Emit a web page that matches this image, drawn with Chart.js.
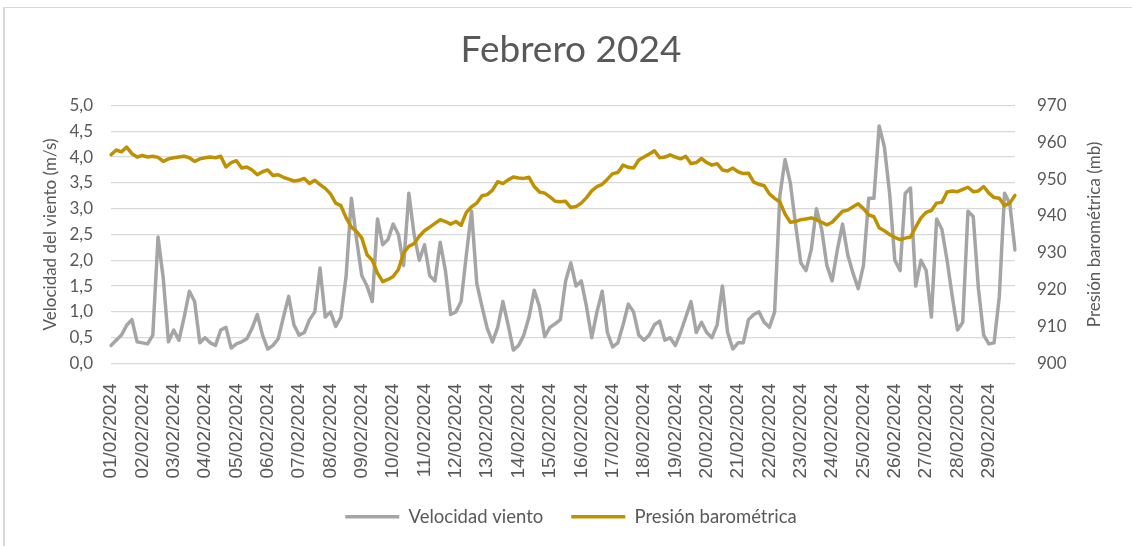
<!DOCTYPE html>
<html>
<head>
<meta charset="utf-8">
<script src="https://cdn.jsdelivr.net/npm/chart.js@4.4.1/dist/chart.umd.min.js"></script>
<style>
  body { margin: 0; background: #fff; }
  #wrap { position: relative; width: 1132px; height: 546px; overflow: hidden; }
  #marco { position: absolute; left: 3px; top: 7px; width: 1200px; height: 600px;
           border-left: 2px solid #d9d9d9; border-top: 1px solid #d9d9d9; pointer-events: none; }
</style>
</head>
<body>
<div id="wrap">
  <canvas id="grafico" width="1132" height="546"></canvas>
  <div id="marco"></div>
</div>
<script>
// dias del mes (etiquetas del eje x), 6 lecturas por dia (cada 4 h)
var dias = ['01/02/2024', '02/02/2024', '03/02/2024', '04/02/2024', '05/02/2024', '06/02/2024',
    '07/02/2024', '08/02/2024', '09/02/2024', '10/02/2024', '11/02/2024', '12/02/2024',
    '13/02/2024', '14/02/2024', '15/02/2024', '16/02/2024', '17/02/2024', '18/02/2024',
    '19/02/2024', '20/02/2024', '21/02/2024', '22/02/2024', '23/02/2024', '24/02/2024',
    '25/02/2024', '26/02/2024', '27/02/2024', '28/02/2024', '29/02/2024'];
var horas = ['00:00', '04:00', '08:00', '12:00', '16:00', '20:00'];

// velocidad del viento (m/s)
var velocidad = [
    0.35, 0.45, 0.55, 0.74, 0.85, 0.42,
    0.40, 0.38, 0.55, 2.45, 1.65, 0.42,
    0.65, 0.45, 0.90, 1.40, 1.20, 0.40,
    0.50, 0.40, 0.35, 0.65, 0.70, 0.30,
    0.38, 0.42, 0.48, 0.68, 0.95, 0.55,
    0.28, 0.35, 0.48, 0.90, 1.30, 0.75,
    0.55, 0.60, 0.85, 1.00, 1.85, 0.90,
    1.00, 0.72, 0.90, 1.70, 3.20, 2.40,
    1.70, 1.50, 1.20, 2.80, 2.30, 2.40,
    2.70, 2.50, 1.90, 3.30, 2.50, 2.00,
    2.30, 1.70, 1.60, 2.35, 1.80, 0.95,
    1.00, 1.20, 2.10, 2.95, 1.55, 1.10,
    0.68, 0.42, 0.70, 1.20, 0.75, 0.26,
    0.35, 0.55, 0.90, 1.42, 1.10, 0.52,
    0.70, 0.77, 0.85, 1.60, 1.95, 1.50,
    1.60, 1.10, 0.50, 1.00, 1.40, 0.60,
    0.32, 0.40, 0.75, 1.15, 1.00, 0.55,
    0.45, 0.55, 0.75, 0.82, 0.45, 0.50,
    0.35, 0.60, 0.90, 1.20, 0.60, 0.80,
    0.60, 0.50, 0.75, 1.50, 0.60, 0.28,
    0.40, 0.40, 0.85, 0.95, 1.00, 0.80,
    0.70, 1.00, 3.25, 3.95, 3.50, 2.70,
    1.95, 1.80, 2.20, 3.00, 2.60, 1.90,
    1.60, 2.20, 2.70, 2.10, 1.75, 1.45,
    1.90, 3.20, 3.20, 4.60, 4.20, 3.30,
    2.00, 1.80, 3.30, 3.40, 1.50, 2.00,
    1.80, 0.90, 2.80, 2.60, 2.00, 1.30,
    0.65, 0.80, 2.95, 2.85, 1.45, 0.55,
    0.38, 0.40, 1.30, 3.30, 3.10, 2.20
];

// presion barometrica (mb)
var presion = [
    956.6, 957.9, 957.4, 958.7, 956.9, 956.0,
    956.4, 956.0, 956.2, 955.9, 954.8, 955.5,
    955.8, 956.0, 956.2, 955.8, 954.8, 955.5,
    955.8, 956.0, 955.8, 956.2, 953.3, 954.5,
    955.0, 953.0, 953.3, 952.5, 951.2, 952.0,
    952.5, 951.0, 951.2, 950.5, 950.0, 949.5,
    949.7, 950.2, 948.8, 949.7, 948.5, 947.5,
    946.0, 943.5, 942.8, 939.5, 937.0, 935.8,
    934.0, 929.5, 928.0, 924.5, 922.2, 922.8,
    923.6, 925.5, 930.0, 931.8, 932.5, 934.5,
    936.0, 937.0, 938.0, 939.0, 938.5, 937.8,
    938.5, 937.5, 941.0, 942.5, 943.5, 945.5,
    945.8, 947.0, 949.3, 948.8, 949.8, 950.6,
    950.3, 950.2, 950.5, 948.0, 946.5, 946.2,
    945.2, 944.0, 943.9, 944.0, 942.3, 942.6,
    943.5, 945.0, 946.8, 948.0, 948.6, 950.0,
    951.5, 951.8, 953.8, 953.2, 953.0, 955.2,
    956.0, 956.8, 957.7, 955.8, 956.0, 956.6,
    956.0, 955.5, 956.2, 954.2, 954.5, 955.6,
    954.5, 953.8, 954.2, 952.5, 952.2, 953.0,
    952.0, 951.5, 951.6, 949.2, 948.6, 948.2,
    946.0, 944.8, 943.8, 940.5, 938.3, 938.5,
    939.0, 939.2, 939.5, 939.0, 938.3, 937.6,
    938.3, 939.8, 941.3, 941.6, 942.5, 943.3,
    942.0, 940.3, 939.8, 936.8, 936.0, 935.0,
    934.2, 933.6, 934.0, 934.3, 937.0, 939.5,
    941.0, 941.5, 943.5, 943.7, 946.5, 946.8,
    946.6, 947.2, 947.8, 946.6, 946.8, 948.0,
    946.2, 945.0, 944.8, 942.8, 943.5, 945.6
];

var categorias = [];
dias.forEach(d => horas.forEach(h => categorias.push(d + ' ' + h)));

var colorTexto = '#595959';

// titulo del eje derecho, que se lee de abajo hacia arriba
var tituloDerecho = {
    id: 'tituloDerecho',
    afterDraw(chart) {
        const ctx = chart.ctx;
        const a = chart.chartArea;
        ctx.save();
        ctx.translate(1095, (a.top + a.bottom) / 2);
        ctx.rotate(-Math.PI / 2);
        ctx.font = '17px Lato';
        ctx.fillStyle = colorTexto;
        ctx.textAlign = 'center';
        ctx.textBaseline = 'middle';
        ctx.fillText('Presión barométrica (mb)', 0, 0);
        ctx.restore();
    }
};

var grafico = new Chart(document.getElementById('grafico'), {
    type: 'line',
    data: {
        labels: categorias,
        datasets: [{
            label: 'Velocidad viento',
            data: velocidad,
            yAxisID: 'y',
            borderColor: '#a5a5a5',
            backgroundColor: '#a5a5a5',
            borderWidth: 3.5,
            borderCapStyle: 'round',
            borderJoinStyle: 'round',
            pointRadius: 0,
            tension: 0,
            order: 2
        }, {
            label: 'Presión barométrica',
            data: presion,
            yAxisID: 'y1',
            borderColor: '#bf9000',
            backgroundColor: '#bf9000',
            borderWidth: 3.5,
            borderCapStyle: 'round',
            borderJoinStyle: 'round',
            pointRadius: 0,
            tension: 0,
            order: 1
        }]
    },
    plugins: [tituloDerecho],
    options: {
        responsive: false,
        animation: false,
        layout: { padding: { left: 10, right: 0, top: 0, bottom: 10 } },
        plugins: {
            title: {
                display: true,
                text: 'Febrero 2024',
                color: colorTexto,
                font: { family: 'Lato', size: 37, weight: 'normal' },
                padding: { top: 28, bottom: 33 }
            },
            legend: {
                position: 'bottom',
                labels: {
                    color: colorTexto,
                    font: { family: 'Lato', size: 18.5 },
                    usePointStyle: true,
                    pointStyle: 'line',
                    pointStyleWidth: 54,
                    padding: 28,
                    sort: (a, b) => a.datasetIndex - b.datasetIndex
                }
            },
            tooltip: { enabled: false }
        },
        scales: {
            x: {
                grid: { display: false },
                border: { display: false },
                afterFit: s => { s.height = 116; },
                ticks: {
                    autoSkip: false,
                    maxRotation: 90,
                    minRotation: 90,
                    padding: 12,
                    color: colorTexto,
                    font: { family: 'Liberation Sans', size: 19 },
                    callback: (v, i) => i % 6 === 0 ? dias[i / 6] : null
                }
            },
            y: {
                position: 'left',
                min: 0,
                max: 5,
                afterFit: s => { s.width = 101; },
                grid: { color: '#d9d9d9', lineWidth: 1.3, drawTicks: false },
                border: { display: false },
                ticks: {
                    stepSize: 0.5,
                    padding: 18,
                    color: colorTexto,
                    font: { family: 'Lato', size: 17 },
                    callback: v => v.toFixed(1).replace('.', ',')
                },
                title: {
                    display: true,
                    text: 'Velocidad del viento (m/s)',
                    color: colorTexto,
                    font: { family: 'Lato', size: 17 },
                    padding: { top: 30, bottom: 0 }
                }
            },
            y1: {
                position: 'right',
                min: 900,
                max: 970,
                afterFit: s => { s.width = 117; },
                grid: { display: false, drawTicks: false },
                border: { display: false },
                ticks: {
                    stepSize: 10,
                    padding: 22,
                    color: colorTexto,
                    font: { family: 'Lato', size: 17 }
                }
            }
        }
    }
});
</script>
</body>
</html>
